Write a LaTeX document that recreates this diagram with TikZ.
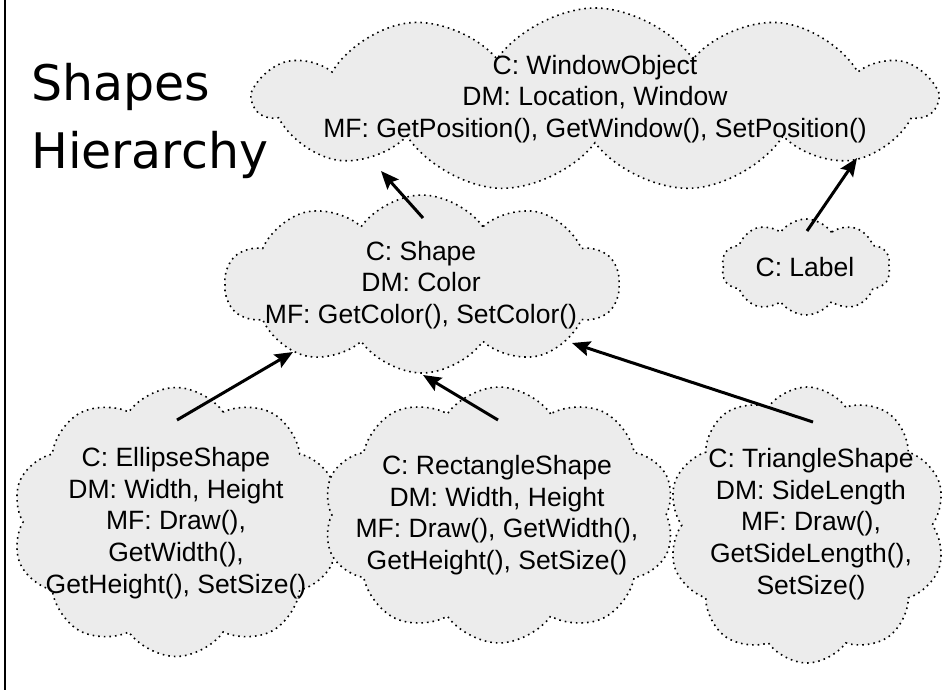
\documentclass[tikz,border=0pt]{standalone}
\usepackage{fontspec}
\setmainfont{Liberation Sans}
\newfontfamily\titlefont{DejaVu Sans}
\usetikzlibrary{shapes.symbols,arrows.meta,calc}
\definecolor{cloudfill}{RGB}{236,236,236}
\begin{document}
\begin{tikzpicture}[x=1pt,y=-1pt,
  cloudbox/.style={cloud, cloud puffs=10, cloud puff arc=110, cloud ignores aspect,
    draw=black, line width=1.6pt, dash pattern=on 1.6pt off 4pt,
    fill=cloudfill, inner sep=0pt},
  cloudtext/.style={align=center, font=\fontsize{26.5}{31.7}\selectfont, inner sep=0pt},
  arr/.style={-{Stealth[length=18pt,width=15pt,inset=3pt]}, line width=3pt}]
\useasboundingbox (0,0) rectangle (948,690);
\draw[line width=2pt] (5,0) -- (5,690);

\node[font=\titlefont\fontsize{49}{68}\selectfont, align=left, anchor=north west, inner sep=0pt] (title) at (31,63) {Shapes\\Hierarchy};

\node[cloudbox, cloud puffs=11, minimum width=680pt, minimum height=184pt] (wo) at (595,100) {};
\node[cloudtext] (wot) at (595,99) {C: WindowObject\\DM: Location, Window\\MF: GetPosition(), GetWindow(), SetPosition()};

\node[cloudbox, minimum width=394pt, minimum height=178pt] (sh) at (422,284) {};
\node[cloudtext] (sht) at (421,285) {C: Shape\\DM: Color\\MF: GetColor(), SetColor()};

\node[cloudbox, minimum width=169pt, minimum height=96pt] (lb) at (806,267) {};
\node[cloudtext] (lbt) at (805,267) {C: Label};

\node[cloudbox, minimum width=328pt, minimum height=269pt] (el) at (176,522) {};
\node[cloudtext] (elt) at (176,523) {C: EllipseShape\\DM: Width, Height\\MF: Draw(),\\GetWidth(),\\GetHeight(), SetSize()};

\node[cloudbox, minimum width=352pt, minimum height=256pt] (re) at (499,515) {};
\node[cloudtext] (ret) at (497,515) {C: RectangleShape\\DM: Width, Height\\MF: Draw(), GetWidth(),\\GetHeight(), SetSize()};

\node[cloudbox, minimum width=278pt, minimum height=276pt] (tr) at (807,525) {};
\node[cloudtext] (trt) at (811,524) {C: TriangleShape\\DM: SideLength\\MF: Draw(),\\GetSideLength(),\\SetSize()};

\draw[arr] ($(sh.center)+(1,-66)$) -- ($(wo.center)+(-214,71)$);
\draw[arr] ($(lb.center)+(1,-36)$) -- ($(wo.center)+(262,58)$);
\draw[arr] ($(el.center)+(1,-102)$) -- ($(sh.center)+(-129,68)$);
\draw[arr] ($(re.center)+(-1,-95)$) -- ($(sh.center)+(1,91)$);
\draw[arr] ($(tr.center)+(6,-103)$) -- ($(sh.center)+(150,59)$);
\end{tikzpicture}
\end{document}
